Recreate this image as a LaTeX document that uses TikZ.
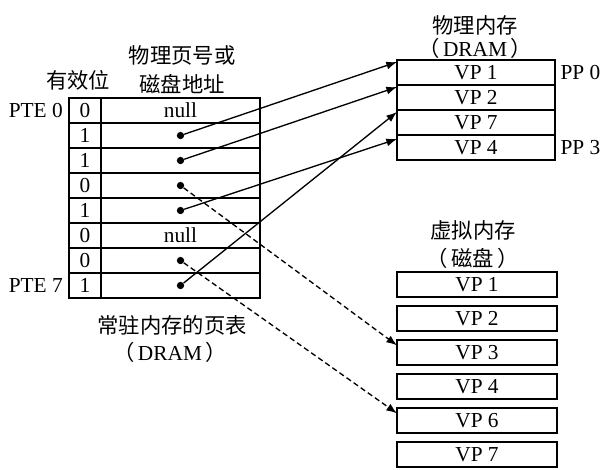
\documentclass[tikz,border=0pt]{standalone}
\usepackage{fontspec}
\setmainfont{Liberation Serif}
\newfontfamily\cjk{Noto Sans CJK SC}
\usetikzlibrary{arrows.meta, positioning}

\tikzset{
  cell/.style={draw, line width=0.9pt, inner sep=0pt, outer sep=0pt, minimum height=18.75pt},
  validcell/.style={cell, minimum width=24pt},
  addrcell/.style={cell, minimum width=119.25pt},
  ppbox/.style={cell, minimum width=118.5pt},
  diskbox/.style={cell, minimum width=120pt},
  lbl/.style={inner sep=0pt},
  dot/.style={circle, fill, inner sep=0pt, minimum size=5.5pt},
  mapped/.style={-{Latex[length=8pt,width=6pt]}, line width=1pt},
  ondisk/.style={mapped, dash pattern=on 4pt off 2.5pt},
}

\begin{document}
\begin{tikzpicture}[x=0.75pt, y=-0.75pt, font=\fontsize{16}{19}\selectfont]
\useasboundingbox (0,0) rectangle (610,469);

% page table
\foreach \v/\a [count=\i from 0] in {0/null,1/,1/,0/,1/,0/null,0/,1/} {
  \node[validcell] (v\i) at (85,{110.5+25*\i}) {\v};
  \node[addrcell] (a\i) at (180.5,{110.5+25*\i}) {\a};
}
\foreach \i in {1,2,3,4,6,7}
  \node[dot] (d\i) at (a\i.center) {};

\node[lbl, left=4.5pt of v0] (pte0) {PTE 0};
\node[lbl, left=4.5pt of v7] (pte7) {PTE 7};
\node[lbl] (valid) at (78,80) {\cjk 有效位};
\node[lbl] (addr1) at (182,55) {\cjk 物理页号或};
\node[lbl] (addr2) at (182,84) {\cjk 磁盘地址};
\node[lbl] (ptname) at (172,325) {\cjk 常驻内存的页表};
\node[lbl] (ptdram) at (170,352) {{\cjk （}\,DRAM\,{\cjk ）}};

% physical memory
\foreach \vp [count=\i from 0] in {1,2,7,4}
  \node[ppbox] (pp\i) at (476,{72.5+25*\i}) {VP \vp};
\node[lbl, right=4pt of pp0] (pp0lbl) {PP 0};
\node[lbl, right=4pt of pp3] (pp3lbl) {PP 3};
\node[lbl] (pmname) at (475,25) {\cjk 物理内存};
\node[lbl] (pmdram) at (475,48) {{\cjk （}\,DRAM\,{\cjk ）}};

% virtual memory on disk
\foreach \vp [count=\i from 0] in {1,2,3,4,6,7}
  \node[diskbox] (vp\vp) at (477,{284.5+34*\i}) {VP \vp};
\node[lbl] (vmname) at (473,230) {\cjk 虚拟内存};
\node[lbl] (vmdisk) at (473,258) {\cjk （\,磁盘\,）};

% mappings
\draw[mapped] (d1) -- ([yshift=-1.5pt]pp0.north west);
\draw[mapped] (d2) -- ([yshift=-1.5pt]pp1.north west);
\draw[mapped] (d7) -- ([yshift=-1.5pt]pp2.north west);
\draw[mapped] (d4) -- ([yshift=-3pt]pp3.north west);
\draw[ondisk] (d3) -- ([yshift=-4pt]vp3.north west);
\draw[ondisk] (d6) -- ([yshift=-4pt]vp6.north west);
\end{tikzpicture}
\end{document}
